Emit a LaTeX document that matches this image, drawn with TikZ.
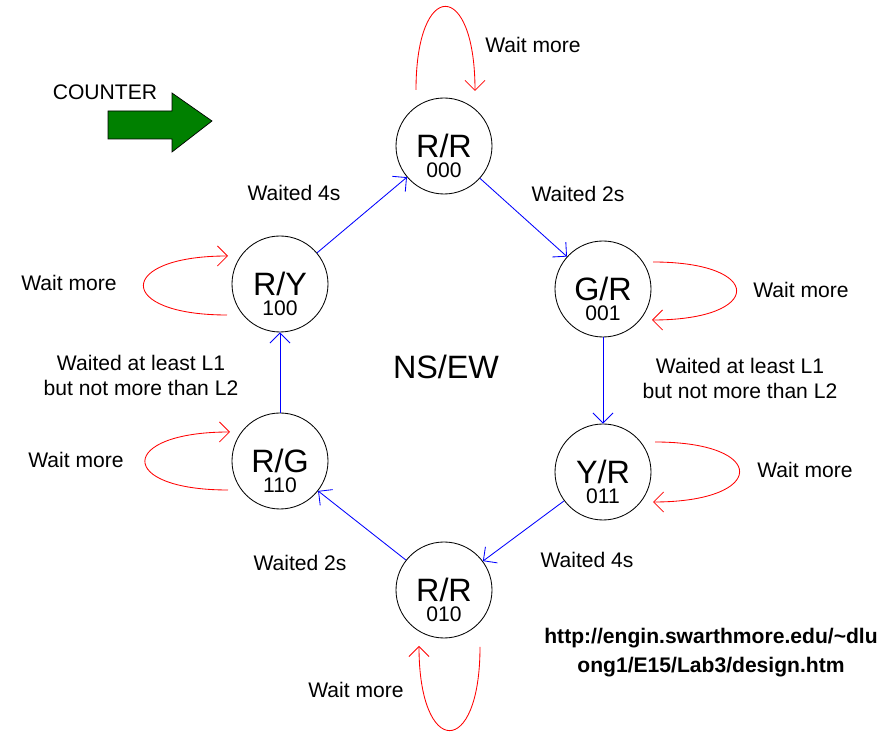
\documentclass[tikz,border=0pt]{standalone}
\usepackage{fontspec}
\setmainfont{Liberation Sans}
\usetikzlibrary{positioning,arrows.meta}

\tikzstyle{state} = [circle, draw, line width=0.6pt, minimum size=2.4cm, inner sep=0pt, font=\fontsize{23}{26}\selectfont]
\tikzstyle{statecode} = [font=\fontsize{15}{18}\selectfont, yshift=-0.6cm]
\tikzstyle{line} = [draw, line width=0.6pt, color=blue, -{Straight Barb[length=2.5mm,width=5mm]}]
\tikzstyle{waitloop} = [draw, line width=0.6pt, color=red, -{Straight Barb[length=2.5mm,width=5mm]}]
\tikzstyle{lbl} = [font=\fontsize{15}{17.8}\selectfont, align=center, inner sep=0pt]

\begin{document}
\begin{tikzpicture}[node distance = 2.5cm, on grid, auto]
    \useasboundingbox (0,0) rectangle (22.1,18.325);
    % Place nodes

    \node [state, label={[statecode]center:000}] (rr0) at (11.1,14.675) {R/R};
    \node [state, label={[statecode]center:001}, below right=3.575cm and 3.975cm of rr0] (gr) {G/R};
    \node [state, label={[statecode]center:011}, below=4.575cm of gr] (yr) {Y/R};
    \node [state, label={[statecode]center:010}, below left=2.95cm and 3.975cm of yr] (rr2) {R/R};
    \node [state, label={[statecode]center:110}, above left=3.225cm and 4.1cm of rr2] (rg) {R/G};
    \node [state, label={[statecode]center:100}, above=4.425cm of rg] (ry) {R/Y};

    \node [lbl, font=\fontsize{23}{26}\selectfont] (nsew) at (11.15,9.15) {NS/EW};

    \node [lbl] (counter) at (2.625,16.025) {COUNTER};
    \filldraw [fill=green!50!black, draw=black, line width=0.5pt] (2.7,15.55) -- (4.3,15.55) -- (4.3,16.0) -- (5.3,15.3) -- (4.3,14.525) -- (4.3,14.85) -- (2.7,14.85) -- cycle;

    \node [lbl] (w4a) at (7.35,13.5) {Waited 4s};
    \node [lbl] (w2a) at (14.45,13.475) {Waited 2s};
    \node [lbl] (wl1) at (3.525,8.95) {Waited at least L1\\but not more than L2};
    \node [lbl] (wl2) at (18.5,8.8625) {Waited at least L1\\but not more than L2};
    \node [lbl] (w2b) at (7.5,4.25) {Waited 2s};
    \node [lbl] (w4b) at (14.675,4.325) {Waited 4s};

    \node [lbl] (wm0) at (13.325,17.2) {Wait more};
    \node [lbl] (wm1) at (20.025,11.075) {Wait more};
    \node [lbl] (wm2) at (20.125,6.575) {Wait more};
    \node [lbl] (wm3) at (8.9,1.075) {Wait more};
    \node [lbl] (wm4) at (1.9,6.825) {Wait more};
    \node [lbl] (wm5) at (1.725,11.25) {Wait more};

    \node [lbl, font=\bfseries\fontsize{15}{20.6}\selectfont] (url) at (17.775,2.0125) {http://engin.swarthmore.edu/\textasciitilde dlu\\ong1/E15/Lab3/design.htm};

    % Draw edges
    \path [line] (ry) -- (rr0);
    \path [line] (rr0) -- (gr);
    \path [line] (gr) -- (yr);
    \path [line] (yr) -- (rr2);
    \path [line] (rr2) -- (rg);
    \path [line] (rg) -- (ry);

    % wait loops
    \path [waitloop] ([shift={(-0.7,1.4)}]rr0.center) .. controls +(0,2.8) and +(0,2.8) .. ([shift={(0.775,1.375)}]rr0.center);
    \path [waitloop] ([shift={(1.25,0.675)}]gr.center) .. controls +(2.8,0) and +(2.8,0) .. ([shift={(1.225,-0.775)}]gr.center);
    \path [waitloop] ([shift={(1.3,0.75)}]yr.center) .. controls +(2.85,0) and +(2.85,0) .. ([shift={(1.25,-0.75)}]yr.center);
    \path [waitloop] ([shift={(0.9,-1.425)}]rr2.center) .. controls +(0,-2.8) and +(0,-2.8) .. ([shift={(-0.625,-1.4)}]rr2.center);
    \path [waitloop] ([shift={(-1.3,-0.725)}]rg.center) .. controls +(-2.8,0) and +(-2.8,0) .. ([shift={(-1.25,0.725)}]rg.center);
    \path [waitloop] ([shift={(-1.325,-0.775)}]ry.center) .. controls +(-2.8,0) and +(-2.8,0) .. ([shift={(-1.3,0.7)}]ry.center);

\end{tikzpicture}
\end{document}
